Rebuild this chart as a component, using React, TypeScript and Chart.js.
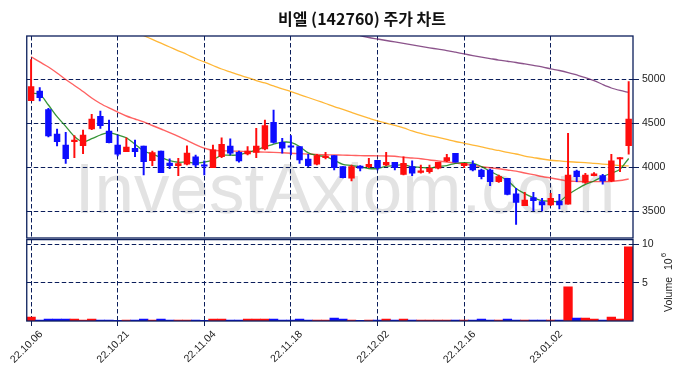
import React, { useEffect, useRef } from "react";
import { Chart, registerables } from "chart.js";

Chart.register(...registerables);

const TITLE = "비엘 (142760) 주가 차트";
const WATERMARK = "InvestAxiom.com";

const DATES = [
  "22.10.06", "22.10.07", "22.10.11", "22.10.12", "22.10.13", "22.10.14", "22.10.17", "22.10.18", "22.10.19", "22.10.20",
  "22.10.21", "22.10.24", "22.10.25", "22.10.26", "22.10.27", "22.10.28", "22.10.31", "22.11.01", "22.11.02", "22.11.03",
  "22.11.04", "22.11.07", "22.11.08", "22.11.09", "22.11.10", "22.11.11", "22.11.14", "22.11.15", "22.11.16", "22.11.17",
  "22.11.18", "22.11.21", "22.11.22", "22.11.23", "22.11.24", "22.11.25", "22.11.28", "22.11.29", "22.11.30", "22.12.01",
  "22.12.02", "22.12.05", "22.12.06", "22.12.07", "22.12.08", "22.12.09", "22.12.12", "22.12.13", "22.12.14", "22.12.15",
  "22.12.16", "22.12.19", "22.12.20", "22.12.21", "22.12.22", "22.12.23", "22.12.26", "22.12.27", "22.12.28", "22.12.29",
  "23.01.02", "23.01.03", "23.01.04", "23.01.05", "23.01.06", "23.01.09", "23.01.10", "23.01.11", "23.01.12", "23.01.13",
];

const OPEN = [
  4757, 4867, 4655, 4378, 4253, 4291, 4245, 4435, 4580, 4412,
  4253, 4177, 4216, 4242, 4075, 4185, 4049, 4018, 4034, 4120,
  4020, 3996, 4120, 4242, 4170, 4151, 4170, 4208, 4511, 4284,
  4236, 4234, 4094, 4034, 4109, 4132, 4007, 3875, 4015, 4007,
  4080, 4026, 4057, 3920, 4007, 3943, 3950, 3989, 4072, 4159,
  4018, 4034, 3969, 3969, 3837, 3875, 3697, 3564, 3655, 3609,
  3572, 3617, 3580, 3958, 3829, 3905, 3905, 3844, 4094, 4245,
];
const HIGH = [
  5225, 4905, 4670, 4435, 4398, 4360, 4424, 4602, 4640, 4537,
  4367, 4336, 4310, 4242, 4185, 4185, 4097, 4102, 4245, 4140,
  4072, 4253, 4336, 4322, 4185, 4234, 4443, 4537, 4651, 4330,
  4359, 4234, 4148, 4148, 4170, 4132, 4007, 4026, 4018, 4102,
  4080, 4170, 4057, 4120, 4072, 4026, 4026, 4057, 4148, 4159,
  4045, 4072, 3981, 3981, 3912, 3875, 3761, 3716, 3716, 3648,
  3705, 3693, 4386, 3969, 3932, 3939, 3920, 4148, 4109, 4975,
];
const LOW = [
  4757, 4753, 4344, 4242, 4045, 4110, 4155, 4427, 4443, 4276,
  4128, 4177, 4120, 3912, 4018, 3939, 3985, 3905, 4026, 4007,
  3912, 3996, 4109, 4140, 4057, 4140, 4109, 4197, 4273, 4159,
  4140, 4045, 4007, 4026, 4094, 3969, 3878, 3844, 3958, 3996,
  3969, 4018, 3969, 3912, 3905, 3932, 3932, 3981, 4064, 4057,
  3996, 3958, 3867, 3791, 3829, 3685, 3352, 3564, 3507, 3503,
  3564, 3526, 3580, 3837, 3818, 3901, 3807, 3837, 3950, 4150,
];
const CLOSE = [
  4916, 4792, 4356, 4291, 4099, 4300, 4367, 4549, 4473, 4280,
  4148, 4231, 4177, 4064, 4166, 3939, 4018, 4041, 4162, 4026,
  4012, 4197, 4261, 4159, 4072, 4185, 4242, 4473, 4284, 4216,
  4228, 4083, 4018, 4132, 4128, 3996, 3882, 4007, 3989, 4034,
  3996, 4057, 3996, 4045, 3932, 3950, 3989, 4057, 4109, 4057,
  4045, 3969, 3893, 3837, 3893, 3693, 3602, 3628, 3620, 3572,
  3648, 3572, 3912, 3893, 3912, 3927, 3844, 4072, 4109, 4549,
];

// volume in millions of shares
const VOLUME_M = [
  0.52, 0.13, 0.26, 0.26, 0.26, 0.26, 0.13, 0.26, 0.13, 0.13,
  0.1, 0.13, 0.13, 0.26, 0.13, 0.26, 0.13, 0.13, 0.13, 0.13,
  0.1, 0.26, 0.26, 0.13, 0.13, 0.26, 0.26, 0.26, 0.26, 0.13,
  0.13, 0.26, 0.13, 0.13, 0.13, 0.39, 0.26, 0.13, 0.1, 0.13,
  0.13, 0.26, 0.13, 0.26, 0.13, 0.13, 0.13, 0.13, 0.13, 0.13,
  0.13, 0.13, 0.26, 0.13, 0.13, 0.26, 0.13, 0.13, 0.13, 0.13,
  0.13, 0.13, 4.47, 0.39, 0.39, 0.26, 0.13, 0.52, 0.26, 9.69,
];

const MA5 = [
  4841, 4830, 4708, 4575, 4465, 4350, 4290, 4325, 4367, 4395,
  4368, 4336, 4262, 4185, 4150, 4112, 4075, 4057, 4060, 4045,
  4058, 4085, 4136, 4137, 4140, 4172, 4195, 4235, 4262, 4285,
  4282, 4237, 4163, 4134, 4120, 4080, 4033, 4022, 4004, 3986,
  3986, 4012, 4018, 4030, 4006, 4000, 3990, 4008, 4020, 4045,
  4054, 4047, 4008, 3955, 3905, 3850, 3760, 3700, 3655, 3620,
  3615, 3612, 3690, 3750, 3805, 3844, 3895, 3932, 3978, 4100,
];
const MA20 = [
  5256, 5197, 5140, 5072, 4998, 4930, 4861, 4787, 4725, 4674,
  4628, 4583, 4549, 4515, 4475, 4435, 4395, 4350, 4305, 4258,
  4218, 4193, 4188, 4185, 4182, 4180, 4176, 4172, 4170, 4165,
  4160, 4155, 4150, 4146, 4142, 4140, 4138, 4135, 4133, 4131,
  4130, 4128, 4125, 4114, 4106, 4097, 4083, 4072, 4060, 4049,
  4037, 4020, 4007, 3994, 3983, 3969, 3956, 3935, 3916, 3895,
  3878, 3861, 3844, 3839, 3837, 3837, 3837, 3839, 3850, 3867,
];
const MA60 = [
  null, null, null, null, null, null, null, null, null, null,
  null, null, null, 5497, 5453, 5410, 5367, 5324, 5282, 5236,
  5197, 5157, 5117, 5083, 5049, 5020, 4986, 4958, 4924, 4890,
  4861, 4827, 4793, 4759, 4725, 4689, 4657, 4623, 4589, 4558,
  4528, 4503, 4475, 4447, 4413, 4384, 4361, 4339, 4316, 4293,
  4273, 4253, 4231, 4208, 4191, 4170, 4151, 4128, 4111, 4094,
  4080, 4072, 4064, 4057, 4053, 4045, 4037, 4029, 4020, 4015,
];
const MA120 = [
  null, null, null, null, null, null, null, null, null, null,
  null, null, null, null, null, null, null, null, null, null,
  null, null, null, null, null, null, null, null, null, null,
  null, null, null, null, null, null, null, null, 5495, 5475,
  5458, 5441, 5424, 5407, 5390, 5373, 5358, 5342, 5327, 5308,
  5288, 5270, 5253, 5236, 5219, 5205, 5191, 5174, 5157, 5140,
  5119, 5100, 5077, 5049, 5020, 4986, 4941, 4901, 4873, 4850,
];

const PRICE_TICKS = [3500, 4000, 4500, 5000];
const VOLUME_TICKS = [5, 10];
const X_LABEL_EVERY = 10;

const UP = "#ff0d0d";
const DOWN = "#0d0dff";
const NAVY = "#0b1e5b";
const TICK_FONT = { family: "Liberation Sans", size: 10.5 };

export default function App() {
  const ref = useRef<HTMLCanvasElement>(null);

  useEffect(() => {
    const colors = OPEN.map((o, i) => (CLOSE[i] >= o ? UP : DOWN));

    const decor = {
      id: "decor",
      beforeDraw(chart: any) {
        const c = chart.ctx;
        c.save();
        c.font = '71px "Liberation Sans"';
        c.fillStyle = "#e3e3e3";
        c.textAlign = "center";
        c.textBaseline = "alphabetic";
        c.fillText(WATERMARK, 345, 213);
        c.restore();
      },
      afterDraw(chart: any) {
        const c = chart.ctx;
        const { left, right } = chart.chartArea;
        const y = chart.scales.y;
        const v = chart.scales.yVol;
        c.save();
        c.strokeStyle = NAVY;
        c.lineWidth = 1.3;
        c.strokeRect(left, y.top, right - left, y.bottom - 1 - y.top);
        c.strokeRect(left, v.top + 0.6, right - left, v.bottom - v.top - 0.6);

        // title
        c.fillStyle = "#111";
        c.font = 'bold 16px "Noto Sans CJK KR"';
        c.textAlign = "center";
        c.textBaseline = "middle";
        c.fillText(TITLE, 362, 19);

        // volume axis title
        c.translate(669, 312);
        c.rotate(-Math.PI / 2);
        c.fillStyle = "#222";
        c.font = '10.5px "Liberation Sans"';
        c.textAlign = "left";
        c.textBaseline = "middle";
        c.fillText("Volume", 0, 0);
        const w = c.measureText("Volume").width;
        c.fillText("10", w + 7, 0);
        const w10 = c.measureText("10").width;
        c.font = '8px "Liberation Sans"';
        c.fillText("6", w + 7 + w10 + 1, -5);
        c.restore();
      },
    };

    const lineDs = (label: string, data: any[], color: string, width: number, order: number) => ({
      type: "line" as const,
      label,
      data,
      borderColor: color,
      borderWidth: width,
      pointRadius: 0,
      tension: 0.3,
      yAxisID: "y",
      order,
    });

    const chart = new Chart(ref.current as HTMLCanvasElement, {
      type: "bar",
      data: {
        labels: DATES,
        datasets: [
          {
            type: "bar",
            label: "body",
            data: OPEN.map((o, i) => [o, CLOSE[i]]),
            backgroundColor: colors,
            barThickness: 5.8,
            minBarLength: 1.5,
            grouped: false,
            yAxisID: "y",
            order: 1,
          },
          {
            type: "bar",
            label: "wick",
            data: LOW.map((l, i) => [l, HIGH[i]]),
            backgroundColor: colors,
            barThickness: 1.3,
            grouped: false,
            yAxisID: "y",
            order: 2,
          },
          {
            type: "bar",
            label: "volume",
            data: VOLUME_M,
            backgroundColor: colors,
            barPercentage: 1,
            categoryPercentage: 1,
            grouped: false,
            yAxisID: "yVol",
            order: 3,
          },
          lineDs("MA5", MA5, "rgba(20,130,20,0.85)", 1.3, 4),
          lineDs("MA20", MA20, "rgba(255,30,30,0.7)", 1.4, 5),
          lineDs("MA60", MA60, "rgba(255,170,20,0.85)", 1.3, 6),
          lineDs("MA120", MA120, "rgba(110,40,110,0.8)", 1.3, 7),
        ] as any,
      },
      options: {
        responsive: false,
        animation: false,
        devicePixelRatio: 1,
        layout: { padding: { left: 25, right: 0, top: 36, bottom: 0 } },
        plugins: {
          legend: { display: false },
          tooltip: { enabled: false },
          title: { display: false },
        },
        scales: {
          x: {
            type: "category",
            offset: true,
            grid: {
              offset: false,
              color: (ctx: any) => (ctx.index % X_LABEL_EVERY === 0 ? NAVY : "rgba(0,0,0,0)"),
              lineWidth: 1,
              tickLength: 5,
            },
            border: { display: false, dash: [4.5, 2.5] },
            ticks: {
              autoSkip: false,
              maxRotation: 45,
              minRotation: 45,
              padding: 2,
              labelOffset: 10,
              color: "#222",
              font: TICK_FONT,
              callback: (_v: any, i: number) => (i % X_LABEL_EVERY === 0 ? DATES[i] : ""),
            },
            afterFit: (s: any) => {
              s.height = 57;
            },
          },
          y: {
            type: "linear",
            position: "right",
            stack: "panels",
            stackWeight: 203,
            min: 3185,
            max: 5492,
            afterBuildTicks: (s: any) => {
              s.ticks = PRICE_TICKS.map((value) => ({ value }));
            },
            grid: { color: NAVY, lineWidth: 1, tickLength: 6 },
            border: { display: false, dash: [4.5, 2.5] },
            ticks: { color: "#222", font: TICK_FONT, padding: 3, callback: (v: any) => String(v) },
            afterFit: (s: any) => {
              s.width = 53;
            },
          },
          yVol: {
            type: "linear",
            position: "right",
            stack: "panels",
            stackWeight: 82,
            min: 0,
            max: 10.7,
            afterBuildTicks: (s: any) => {
              s.ticks = VOLUME_TICKS.map((value) => ({ value }));
            },
            grid: { color: NAVY, lineWidth: 1, tickLength: 6 },
            border: { display: false, dash: [4.5, 2.5] },
            ticks: { color: "#222", font: TICK_FONT, padding: 3, callback: (v: any) => String(v) },
            afterFit: (s: any) => {
              s.width = 53;
            },
          },
        },
      } as any,
      plugins: [decor],
    });

    return () => chart.destroy();
  }, []);

  return (
    <canvas
      ref={ref}
      width={686}
      height={378}
      style={{ position: "fixed", left: 0, top: 0, width: 686, height: 378 }}
    />
  );
}
